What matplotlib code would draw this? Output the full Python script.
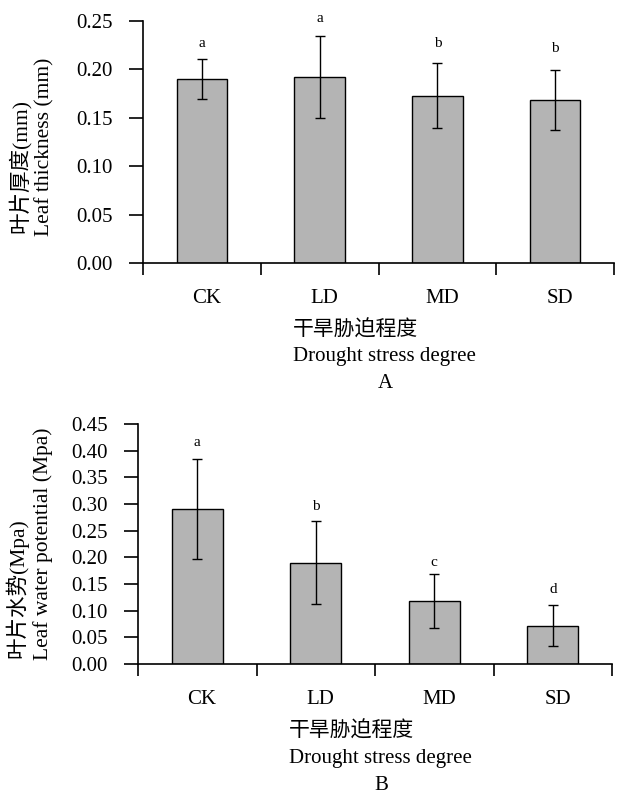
import numpy as np
import matplotlib
matplotlib.use('Agg')
from matplotlib import pyplot as plt

plt.rcParams['font.family'] = ['Liberation Serif', 'Noto Sans CJK SC']

# 数据
groups = ['CK', 'LD', 'MD', 'SD']

thick_mean = [0.190, 0.192, 0.173, 0.168]
thick_err = [0.021, 0.042, 0.034, 0.031]
thick_sig = ['a', 'a', 'b', 'b']
thick_sig_y = [0.227, 0.253, 0.227, 0.222]
thick_ticks = [0.00, 0.05, 0.10, 0.15, 0.20, 0.25]

wp_mean = [0.291, 0.190, 0.118, 0.072]
wp_err = [0.094, 0.078, 0.050, 0.039]
wp_sig = ['a', 'b', 'c', 'd']
wp_sig_y = [0.416, 0.295, 0.191, 0.139]
wp_ticks = [0.00, 0.05, 0.10, 0.15, 0.20, 0.25, 0.30, 0.35, 0.40, 0.45]

W, H = 617, 793


def fx(px):
    return px / W


def fy(py):
    return 1 - py / H


def draw_panel(ax, means, errs, sig, sig_y, ticks):
    x = np.arange(len(groups))
    ax.bar(x, means, width=0.43, color='#b4b4b4', edgecolor='black', linewidth=1.0)
    ax.errorbar(x, means, yerr=errs, fmt='none', ecolor='black', elinewidth=1.0,
                capsize=3.8, capthick=1.0)
    for xi, s, sy in zip(x, sig, sig_y):
        ax.text(xi, sy, s, ha='center', va='center', fontsize=11)

    ax.set_xlim(-0.5, len(groups) - 0.5)
    ax.set_ylim(0, ticks[-1])
    ax.set_yticks(ticks)
    ax.set_yticklabels(['%.2f' % t for t in ticks], fontsize=15)

    # 分隔刻度在类别之间, 类别标签无刻度
    ax.set_xticks(np.arange(len(groups) + 1) - 0.5)
    ax.set_xticklabels([])
    ax.set_xticks(x + 0.04, minor=True)
    ax.set_xticklabels(groups, minor=True, fontsize=15)
    ax.tick_params(axis='x', which='major', direction='out', length=8.5, width=1.2)
    ax.tick_params(axis='x', which='minor', length=0, pad=19)
    ax.tick_params(axis='y', direction='out', length=10, width=1.2, pad=12)

    for sp in ['top', 'right']:
        ax.spines[sp].set_visible(False)
    for sp in ['left', 'bottom']:
        ax.spines[sp].set_linewidth(1.2)


fig = plt.figure(figsize=(W / 100, H / 100), dpi=100)

# A: 叶片厚度
ax1 = fig.add_axes([fx(143), fy(263), fx(614) - fx(143), fy(21) - fy(263)])
draw_panel(ax1, thick_mean, thick_err, thick_sig, thick_sig_y, thick_ticks)
fig.text(fx(19), fy(233), '叶片厚度(mm)', rotation=90, ha='center', va='bottom', fontsize=15.5)
fig.text(fx(45), fy(236), 'Leaf thickness (mm)', rotation=90, ha='center', va='bottom', fontsize=15.5)
fig.text(fx(293), fy(331), '干旱胁迫程度', ha='left', va='center', fontsize=15)
fig.text(fx(293), fy(356), 'Drought stress degree', ha='left', va='center', fontsize=15)
fig.text(fx(385), fy(384), 'A', ha='center', va='center', fontsize=15)

# B: 叶片水势
ax2 = fig.add_axes([fx(138), fy(664), fx(612) - fx(138), fy(424) - fy(664)])
draw_panel(ax2, wp_mean, wp_err, wp_sig, wp_sig_y, wp_ticks)
fig.text(fx(17), fy(658), '叶片水势(Mpa)', rotation=90, ha='center', va='bottom', fontsize=15.5)
fig.text(fx(43), fy(660), 'Leaf water potential (Mpa)', rotation=90, ha='center', va='bottom', fontsize=15.5)
fig.text(fx(289), fy(732), '干旱胁迫程度', ha='left', va='center', fontsize=15)
fig.text(fx(289), fy(758), 'Drought stress degree', ha='left', va='center', fontsize=15)
fig.text(fx(381), fy(785), 'B', ha='center', va='center', fontsize=15)

fig.savefig('out.png', dpi=100)
